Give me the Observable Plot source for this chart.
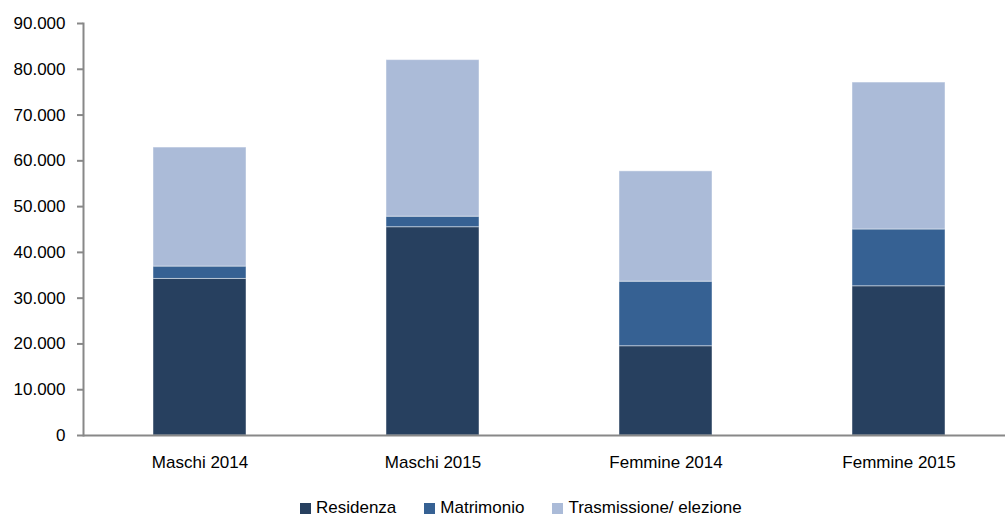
<!DOCTYPE html>
<html>
<head>
<meta charset="utf-8">
<script src="https://cdn.jsdelivr.net/npm/d3@7"></script>
<script src="https://cdn.jsdelivr.net/npm/@observablehq/plot@0.6"></script>
<style>
  body { margin: 0; background: #fff; font-family: "Liberation Sans", Arial, sans-serif; }
  #chart svg { display: block; overflow: visible; }
  #legend { display: flex; align-items: center; padding-left: 300px; margin-top: 18px; height: 20px; font-size: 17px; color: #000; }
  .item { display: flex; align-items: center; margin-right: 28px; }
  .sw { width: 11px; height: 11px; margin-right: 5px; }
</style>
</head>
<body>
<div id="chart"></div>
<div id="legend"></div>
<script>
const categories = ["Maschi 2014", "Maschi 2015", "Femmine 2014", "Femmine 2015"];
const seriesNames = ["Residenza", "Matrimonio", "Trasmissione/ elezione"];
const residenza = [34200, 45500, 19500, 32600];
const matrimonio = [2700, 2300, 14100, 12400];
const trasmissione = [26000, 34200, 24100, 32100];
const seriesColors = ["#27405f", "#366193", "#abbbd8"];
const yTicks = [0, 10000, 20000, 30000, 40000, 50000, 60000, 70000, 80000, 90000];

const seriesValues = [residenza, matrimonio, trasmissione];
const rows = [];
seriesNames.forEach((s, si) => {
  categories.forEach((c, ci) => rows.push({cat: c, series: s, value: seriesValues[si][ci]}));
});

const itLocale = d3.formatLocale({decimal: ",", thousands: ".", grouping: [3], currency: ["", " €"]});
const fmt = itLocale.format(",");

const chart = Plot.plot({
  width: 1005,
  height: 480,
  marginLeft: 83,
  marginRight: 0,
  marginTop: 23,
  marginBottom: 45,
  style: {fontFamily: "Liberation Sans, Arial, sans-serif", fontSize: "17px", color: "#000", background: "#fff"},
  x: {domain: categories, paddingInner: 0.6, paddingOuter: 0.3, label: null, range: [83, 1015]},
  y: {domain: [0, 90000], label: null},
  color: {domain: seriesNames, range: seriesColors},
  marks: [
    Plot.barY(rows, Plot.stackY({order: seriesNames}, {x: "cat", y: "value", fill: "series", stroke: "#ffffff", strokeOpacity: 0.45, strokeWidth: 1})),
    Plot.axisY({ticks: yTicks, tickFormat: fmt, tickSize: 6, tickPadding: 12, stroke: "#888", strokeWidth: 2, label: null, fill: "#000"}),
    Plot.frame({anchor: "left", stroke: "#888", strokeWidth: 2}),
    Plot.ruleY([0], {stroke: "#888", strokeWidth: 2}),
    Plot.axisX({tickSize: 0, tickPadding: 20, label: null, fill: "#000"})
  ]
});
document.getElementById("chart").appendChild(chart);

const legend = document.getElementById("legend");
seriesNames.forEach((s, i) => {
  const it = document.createElement("div");
  it.className = "item";
  const sw = document.createElement("div");
  sw.className = "sw";
  sw.style.background = seriesColors[i];
  const t = document.createElement("span");
  t.textContent = s;
  it.appendChild(sw);
  it.appendChild(t);
  legend.appendChild(it);
});
</script>
</body>
</html>
